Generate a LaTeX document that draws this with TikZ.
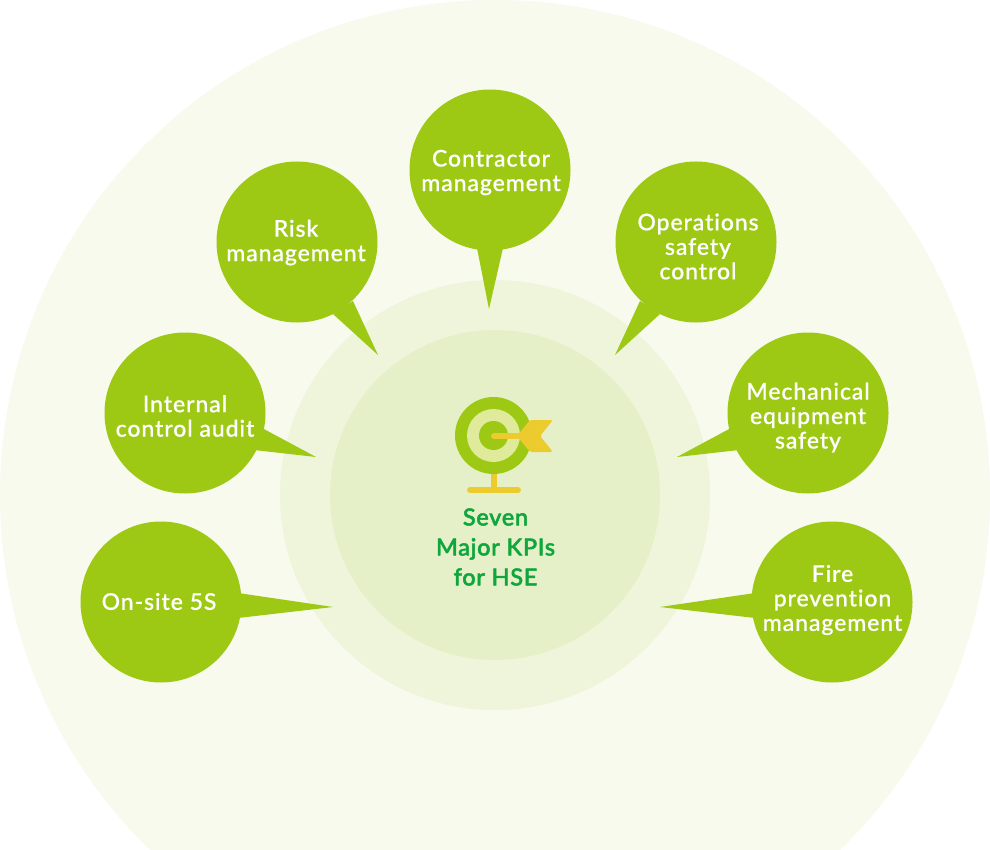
\documentclass[tikz,border=0pt]{standalone}
\usepackage{fontspec}
\setmainfont{Lato Medium}[LetterSpace=4,Ligatures=NoCommon,FakeBold=0.6]
\newfontfamily\titlefont{Lato Medium}[LetterSpace=3,Ligatures=NoCommon,FakeBold=2]
\definecolor{bgA}{HTML}{F7FAEC}
\definecolor{bgB}{HTML}{EEF5DA}
\definecolor{bgC}{HTML}{E5F0C8}
\definecolor{leaf}{HTML}{9DC814}
\definecolor{dart}{HTML}{EBCB2E}
\definecolor{ringc}{HTML}{DFEA9A}
\definecolor{titlec}{HTML}{0FA63C}
\tikzset{
  bubble/.style={circle,fill=leaf,minimum size=161pt,inner sep=0pt},
  bubbletext/.style={text=white,align=center,inner sep=0pt,font=\fontsize{23}{24.5}\selectfont},
  tail/.style={fill=leaf,draw=none},
  disc/.style={circle,inner sep=0pt,draw=none}
}
\begin{document}
\begin{tikzpicture}[x=1pt,y=-1pt]
\useasboundingbox (0,0) rectangle (990,850);
\begin{scope}
\clip (0,0) rectangle (990,850);
\node[disc,fill=bgA,minimum size=990pt] (outer) at (495,495) {};
\end{scope}
\node[disc,fill=bgB,minimum size=430pt] (middle) at (495,495) {};
\node[disc,fill=bgC,minimum size=330pt] (inner) at (495,495) {};
% tails
\fill[tail] (477,248) -- (489,309) -- (503,248) -- cycle;
\fill[tail] (333,314) -- (378,355) -- (353,301) -- cycle;
\fill[tail] (660,314) -- (615,355) -- (640,301) -- cycle;
\fill[tail] (262,428) -- (316,457) -- (254,450) -- cycle;
\fill[tail] (731,428) -- (677,457) -- (739,450) -- cycle;
\fill[tail] (238,593) -- (333,607) -- (238,618) -- cycle;
\fill[tail] (755,593) -- (660,607) -- (755,618) -- cycle;
% bubbles
\node[bubble] (contractor) at (490,170) {};
\node[bubble] (risk) at (297,242) {};
\node[bubble] (ops) at (696,242) {};
\node[bubble] (audit) at (185,413) {};
\node[bubble] (mech) at (808,413) {};
\node[bubble] (site) at (161,602) {};
\node[bubble] (fire) at (832,602) {};
\node[bubbletext] (tcontractor) at (491,172.5) {Contractor\\management};
\node[bubbletext] (trisk) at (296,242.5) {Risk\\management};
\node[bubbletext] (tops) at (698,246.5) {Operations\\safety\\control};
\node[bubbletext] (taudit) at (185,416) {Internal\\control audit};
\node[bubbletext] (tmech) at (808,417.5) {Mechanical\\equipment\\safety};
\node[bubbletext] (tsite) at (159,601.5) {On-site 5S};
\node[bubbletext] (tfire) at (832.5,600) {Fire\\prevention\\management};
% target icon
\draw[dart,line width=6pt] (494,474) -- (494,490);
\draw[dart,line width=6pt,line cap=round] (470,490) -- (518,490);
\node[disc,fill=leaf,minimum size=77pt] (t1) at (493.5,435.5) {};
\node[disc,fill=ringc,minimum size=53pt] (t2) at (493.5,435.5) {};
\node[disc,fill=leaf,minimum size=29pt] (t3) at (493.5,435.5) {};
\fill[dart,rounded corners=2.5pt] (517,436) -- (530,420) -- (553,420) -- (540,436) -- (553,452) -- (530,452) -- cycle;
\draw[dart,line width=6pt,line cap=round] (494,436) -- (520,436);
% title
\node[align=center,text=titlec,font=\titlefont\fontsize{23.5}{30}\selectfont] (title) at (495.5,547) {Seven\\Major KPIs\\for HSE};
\end{tikzpicture}
\end{document}
